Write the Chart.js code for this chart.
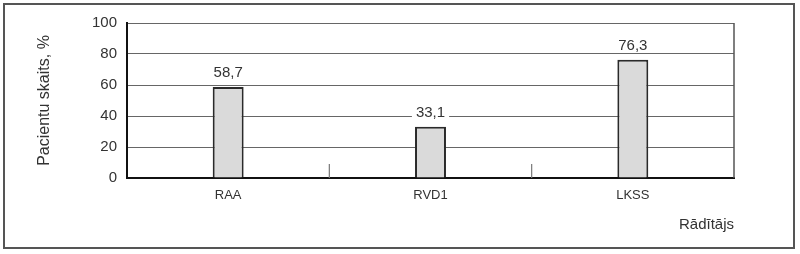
<!DOCTYPE html>
<html>
<head>
<meta charset="utf-8">
<script src="https://cdn.jsdelivr.net/npm/chart.js@4/dist/chart.umd.min.js"></script>
<style>
html,body{margin:0;padding:0;background:#fff;}
#wrap{width:800px;height:254px;position:relative;}
</style>
</head>
<body>
<div id="wrap"><canvas id="c" width="800" height="254"></canvas></div>
<script>
const categories = ["RAA", "RVD1", "LKSS"];
const values = [58.7, 33.1, 76.3];
const valueLabels = ["58,7", "33,1", "76,3"];
const yTicks = [0, 20, 40, 60, 80, 100];
const yTitle = "Pacientu skaits, %";
const xTitle = "Rādītājs";

const FONT = "'Liberation Sans', Arial, sans-serif";

const decor = {
  id: 'decor',
  beforeDraw(chart) {
    const ctx = chart.ctx;
    ctx.save();
    ctx.fillStyle = '#fff';
    ctx.fillRect(0, 0, chart.width, chart.height);
    ctx.strokeStyle = '#555';
    ctx.lineWidth = 2;
    ctx.strokeRect(4, 4, 790, 244);
    ctx.restore();
  },
  afterDatasetsDraw(chart) {
    const ctx = chart.ctx;
    const area = chart.chartArea;
    const xs = chart.scales.x;
    ctx.save();
    ctx.strokeStyle = '#555';
    ctx.lineWidth = 1.5;
    ctx.beginPath();
    ctx.moveTo(area.right, area.top);
    ctx.lineTo(area.right, area.bottom);
    ctx.stroke();
    ctx.strokeStyle = '#777';
    ctx.lineWidth = 1.2;
    for (let i = 0; i < categories.length - 1; i++) {
      const x = (xs.getPixelForValue(i) + xs.getPixelForValue(i + 1)) / 2;
      ctx.beginPath();
      ctx.moveTo(x, area.bottom);
      ctx.lineTo(x, area.bottom - 14);
      ctx.stroke();
    }
    const meta = chart.getDatasetMeta(0);
    ctx.font = "15px " + FONT;
    ctx.textAlign = 'center';
    ctx.textBaseline = 'alphabetic';
    meta.data.forEach((bar, i) => {
      const t = valueLabels[i];
      const w = ctx.measureText(t).width;
      const y = bar.y - 10;
      ctx.fillStyle = '#fff';
      ctx.fillRect(bar.x - w / 2 - 4, y - 13, w + 8, 16);
      ctx.fillStyle = '#333';
      ctx.fillText(t, bar.x, y);
    });
    ctx.restore();
  }
};

new Chart(document.getElementById('c'), {
  type: 'bar',
  data: {
    labels: categories,
    datasets: [{
      data: values,
      backgroundColor: '#dadada',
      borderColor: '#2a2a2a',
      borderWidth: 2,
      categoryPercentage: 1,
      barPercentage: 0.153
    }]
  },
  options: {
    responsive: false,
    animation: false,
    layout: { padding: { left: 0, top: 23, right: 66, bottom: 16 } },
    plugins: { legend: { display: false }, tooltip: { enabled: false } },
    scales: {
      x: {
        afterFit(s) { s.height = 60; },
        grid: { display: false, drawTicks: false },
        border: { display: true, color: '#111', width: 2 },
        ticks: { color: '#333', font: { family: FONT, size: 13 }, padding: 10 },
        title: {
          display: true, text: xTitle, align: 'end', color: '#333',
          font: { family: FONT, size: 15 }, padding: { top: 0, bottom: 4 }
        }
      },
      y: {
        min: 0, max: 100,
        afterFit(s) { s.width = 127; },
        afterBuildTicks(s) { s.ticks = yTicks.map(v => ({ value: v })); },
        grid: { color: '#666', lineWidth: 1, drawTicks: false },
        border: { display: true, color: '#111', width: 2 },
        ticks: { color: '#333', font: { family: FONT, size: 15 }, padding: 10 },
        title: {
          display: true, text: yTitle, color: '#333',
          font: { family: FONT, size: 16 }, padding: { top: 35, bottom: 0 }
        }
      }
    }
  },
  plugins: [decor]
});
</script>
</body>
</html>
